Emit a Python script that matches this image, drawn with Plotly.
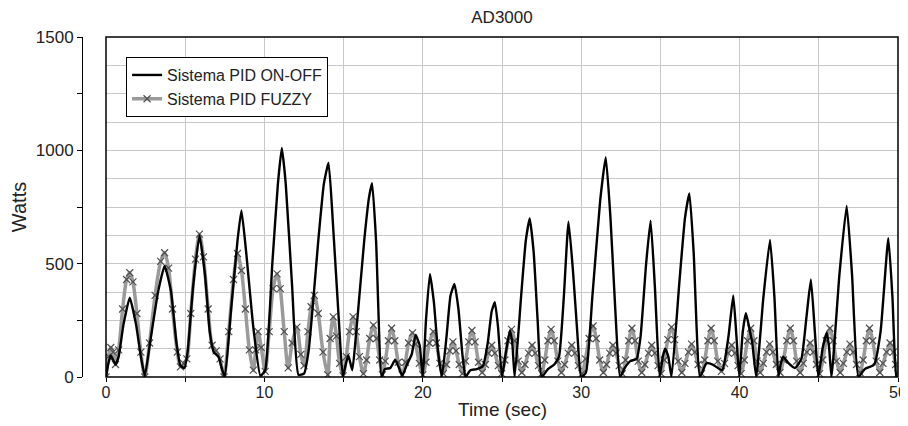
import plotly.graph_objects as go

# Sistema PID ON-OFF: tiempo (s) y potencia (W)
onoff_t = [0.0, 0.15, 0.3, 0.45, 0.6, 0.8, 1.1, 1.5, 1.9, 2.2, 2.45,
           2.8, 3.3, 3.7, 4.1, 4.45, 4.7, 4.95, 5.15, 5.5, 5.9, 6.25, 6.55,
           6.8, 7.1, 7.3, 7.5, 7.9, 8.3, 8.55, 8.85, 9.3, 9.75, 10.05, 10.5,
           10.85, 11.1, 11.35, 11.75, 12.15, 12.5, 12.8, 13.4, 13.75, 14.05,
           14.35, 14.7, 14.95, 15.15, 15.3, 15.55, 15.8, 16.3, 16.6, 16.8,
           17.05, 17.4, 17.6, 17.95, 18.25, 18.5, 18.7, 19.0, 19.3, 19.55,
           19.8, 20.0, 20.2, 20.45, 20.7, 20.95, 21.2, 21.5, 21.75, 22.0,
           22.25, 22.5, 22.7, 23.0, 23.4, 23.8, 24.1, 24.35, 24.55, 24.75,
           25.0, 25.25, 25.5, 25.65, 25.8, 26.2, 26.5, 26.75, 27.0, 27.25,
           27.5, 27.9, 28.3, 28.6, 28.9, 29.2, 29.5, 29.75, 30.0, 30.3,
           30.7, 31.2, 31.55, 31.85, 32.15, 32.45, 32.75, 33.1, 33.5, 33.75,
           34.1, 34.38, 34.65, 34.95, 35.15, 35.3, 35.5, 35.7, 36.2, 36.55,
           36.83, 37.1, 37.5, 37.9, 38.3, 38.9, 39.3, 39.6, 39.8, 39.98,
           40.2, 40.4, 40.6, 40.8, 41.05, 41.5, 41.92, 42.2, 42.45, 42.6,
           42.75, 43.1, 43.5, 43.9, 44.2, 44.5, 44.75, 44.97, 45.25, 45.5,
           45.65, 45.8, 46.3, 46.76, 47.1, 47.5, 47.9, 48.5, 48.9, 49.39,
           49.65, 49.9, 50.0]
onoff_w = [0, 60, 95, 75, 55, 90, 230, 350, 230, 90, 5,
           160, 380, 490, 380, 150, 50, 40, 110, 400, 625, 450, 200,
           110, 90, 40, 0, 300, 600, 735, 550, 220, 5, 30, 500,
           850, 1010, 850, 400, 10, 15, 120, 600, 850, 945,
           650, 250, 0, 60, 95, 30, 200, 600, 790, 855,
           600, 0, 35, 40, 75, 40, 5, 55, 100, 185,
           140, 0, 250, 455, 330, 120, 0, 180, 360, 410,
           300, 100, 0, 30, 35, 50, 150, 290, 330, 220,
           0, 110, 205, 150, 0, 350, 600, 700, 550, 250,
           0, 35, 55, 90, 350, 685, 450, 200, 0, 20,
           350, 780, 970, 700, 300, 0, 40, 70, 80, 180,
           500, 690, 400, 0, 90, 125, 90, 0, 420, 700,
           810, 550, 0, 60, 55, 30, 180, 360, 180, 0,
           200, 282, 220, 150, 0, 350, 605, 350, 0, 60,
           90, 60, 40, 80, 250, 430, 200, 0, 130, 195,
           130, 0, 450, 755, 450, 0, 35, 55, 200, 612,
           350, 0, 0]

# Sistema PID FUZZY
fuzzy_t = [0.0, 0.15, 0.3, 0.45, 0.6, 0.8, 1.05, 1.3, 1.5, 1.7, 1.95, 2.2, 2.45,
           2.75, 3.1, 3.45, 3.7, 3.95, 4.2, 4.5, 4.7, 4.9, 5.1,
           5.35, 5.65, 5.9, 6.15, 6.45, 6.7, 6.95, 7.2, 7.45,
           7.75, 8.05, 8.3, 8.55, 8.8, 9.05, 9.3,
           9.45, 9.6, 9.8, 10.05,
           10.3, 10.55, 10.8, 11.0, 11.25, 11.5,
           11.75, 12.05, 12.3, 12.5,
           12.75, 12.95, 13.15, 13.4, 13.7, 14.0,
           14.15, 14.35, 14.55, 14.75, 14.97,
           15.17, 15.37, 15.6, 15.8, 16.0, 16.25,
           16.45, 16.65, 16.88, 17.08, 17.28, 17.45,
           17.63, 17.83, 18.03, 18.23, 18.45, 18.7,
           18.9, 19.1, 19.35, 19.55, 19.78, 20.0,
           20.2, 20.42, 20.66, 20.86, 21.08, 21.3,
           21.5, 21.7, 21.9, 22.1, 22.3, 22.5,
           22.7, 22.9, 23.1, 23.3, 23.52, 23.75,
           23.95, 24.15, 24.35, 24.55, 24.77, 24.98,
           25.18, 25.38, 25.6, 25.8, 26.02, 26.25,
           26.45, 26.68, 26.9, 27.1, 27.3, 27.5,
           27.7, 27.9, 28.1, 28.3, 28.52, 28.75,
           28.95, 29.18, 29.4, 29.6, 29.82, 30.05,
           30.27, 30.5, 30.75, 30.95, 31.17, 31.4,
           31.6, 31.8, 32.0, 32.2, 32.4, 32.6,
           32.8, 33.0, 33.2, 33.4, 33.6, 33.82,
           34.02, 34.25, 34.45, 34.65, 34.85, 35.05,
           35.25, 35.47, 35.7, 35.9, 36.12, 36.35,
           36.55, 36.77, 36.97, 37.17, 37.38, 37.6,
           37.8, 38.0, 38.2, 38.4, 38.62, 38.85,
           39.05, 39.28, 39.5, 39.7, 39.9, 40.1,
           40.3, 40.5, 40.7, 40.9, 41.1, 41.3,
           41.5, 41.7, 41.9, 42.1, 42.32, 42.55,
           42.77, 42.98, 43.2, 43.4, 43.6, 43.82,
           44.02, 44.25, 44.45, 44.65, 44.85, 45.05,
           45.25, 45.47, 45.7, 45.9, 46.12, 46.35,
           46.55, 46.77, 46.97, 47.17, 47.38, 47.6,
           47.8, 48.0, 48.2, 48.4, 48.62, 48.85,
           49.05, 49.28, 49.5, 49.7, 49.85, 50.0]
fuzzy_w = [0, 90, 130, 110, 55, 120, 300, 430, 460, 420, 280, 110, 0,
           150, 360, 510, 548, 480, 300, 110, 45, 60, 80,
           280, 520, 630, 530, 300, 140, 115, 80, 0,
           200, 430, 545, 470, 300, 120, 30,
           120, 200, 130, 25,
           200, 390, 455, 390, 200, 40,
           150, 220, 100, 50,
           200, 310, 360, 280, 110, 10,
           170, 265, 180, 60, 5,
           90, 200, 265, 200, 90, 15,
           75, 170, 229, 170, 75, 10,
           70, 160, 215, 160, 65, 10,
           65, 150, 195, 145, 60, 10,
           65, 150, 200, 150, 60, 15,
           55, 115, 155, 115, 55, 15,
           70, 155, 205, 155, 65, 20,
           55, 105, 140, 105, 50, 15,
           75, 160, 210, 160, 70, 20,
           55, 105, 140, 105, 50, 15,
           75, 160, 210, 160, 70, 20,
           55, 105, 140, 105, 50, 15,
           80, 170, 225, 170, 75, 20,
           55, 105, 140, 105, 50, 15,
           75, 160, 215, 160, 70, 20,
           55, 105, 140, 105, 50, 15,
           75, 165, 220, 165, 70, 20,
           60, 110, 145, 110, 55, 15,
           75, 160, 215, 160, 70, 25,
           60, 105, 140, 105, 50, 15,
           75, 160, 215, 160, 70, 20,
           60, 110, 145, 110, 55, 20,
           75, 160, 215, 160, 70, 20,
           60, 110, 150, 110, 55, 15,
           75, 160, 215, 160, 70, 20,
           60, 110, 145, 110, 55, 20,
           75, 160, 215, 160, 70, 20,
           60, 110, 150, 110, 55, 15]

fig = go.Figure()

fig.add_trace(go.Scatter(
    x=fuzzy_t, y=fuzzy_w, name='Sistema PID FUZZY', mode='lines+markers',
    line=dict(color='#9a9a9a', width=3.5, shape='spline', smoothing=0.8),
    marker=dict(symbol='x-thin', size=7, color='#505050',
                line=dict(width=1.2, color='#505050')),
    legendrank=2,
))
fig.add_trace(go.Scatter(
    x=onoff_t, y=onoff_w, name='Sistema PID ON-OFF', mode='lines',
    line=dict(color='black', width=2.4, shape='spline', smoothing=0.45),
    legendrank=1,
))

# la pagina tiene 8 px de margen en el body: se compensa en los margenes
grid = '#c8c8c8'
fig.update_layout(
    width=908, height=426,
    margin=dict(l=74, r=18, t=29, b=57),
    paper_bgcolor='white', plot_bgcolor='white',
    font=dict(family='Liberation Sans, Arial, sans-serif', size=17, color='#222'),
    title=dict(text='AD3000', x=0.5147, xanchor='center', xref='paper',
               y=0.978, yanchor='middle', font=dict(size=17, color='#222')),
    showlegend=True,
    legend=dict(x=0.054, y=0.941, xanchor='left', yanchor='top',
                bgcolor='white', bordercolor='black', borderwidth=1,
                font=dict(size=16), itemwidth=30, tracegroupgap=0),
    xaxis=dict(domain=[24 / 816, 1], range=[0, 50], tick0=0, dtick=5,
               ticklabelstep=2, ticks='outside', ticklen=4, tickcolor='black',
               ticklabelstandoff=-3, tickfont=dict(size=16),
               showgrid=True, gridcolor=grid, gridwidth=1, zeroline=False,
               showline=False, automargin=False),
    yaxis=dict(anchor='free', position=0, range=[0, 1500], tick0=0, dtick=250,
               ticklabelstep=2, ticks='outside', ticklen=5, tickcolor='black',
               tickfont=dict(size=17),
               showline=True, linecolor='black', linewidth=1,
               showgrid=True, gridcolor=grid, gridwidth=1, zeroline=False,
               automargin=False,
               minor=dict(dtick=125, tick0=0, showgrid=True, gridcolor=grid,
                          ticks=''),
               title=dict(text='Watts')),
)

# titulo del eje x, justo debajo de las etiquetas
fig.add_annotation(text='Time (sec)', xref='x domain', x=0.5, xanchor='center',
                   yref='paper', y=-0.097, yanchor='middle', showarrow=False,
                   font=dict(size=19))

# marco del area de trazado
fig.add_shape(type='rect', xref='x domain', yref='y domain',
              x0=0, x1=1, y0=0, y1=1, line=dict(color='black', width=1.5))

fig.write_html('out.html')
